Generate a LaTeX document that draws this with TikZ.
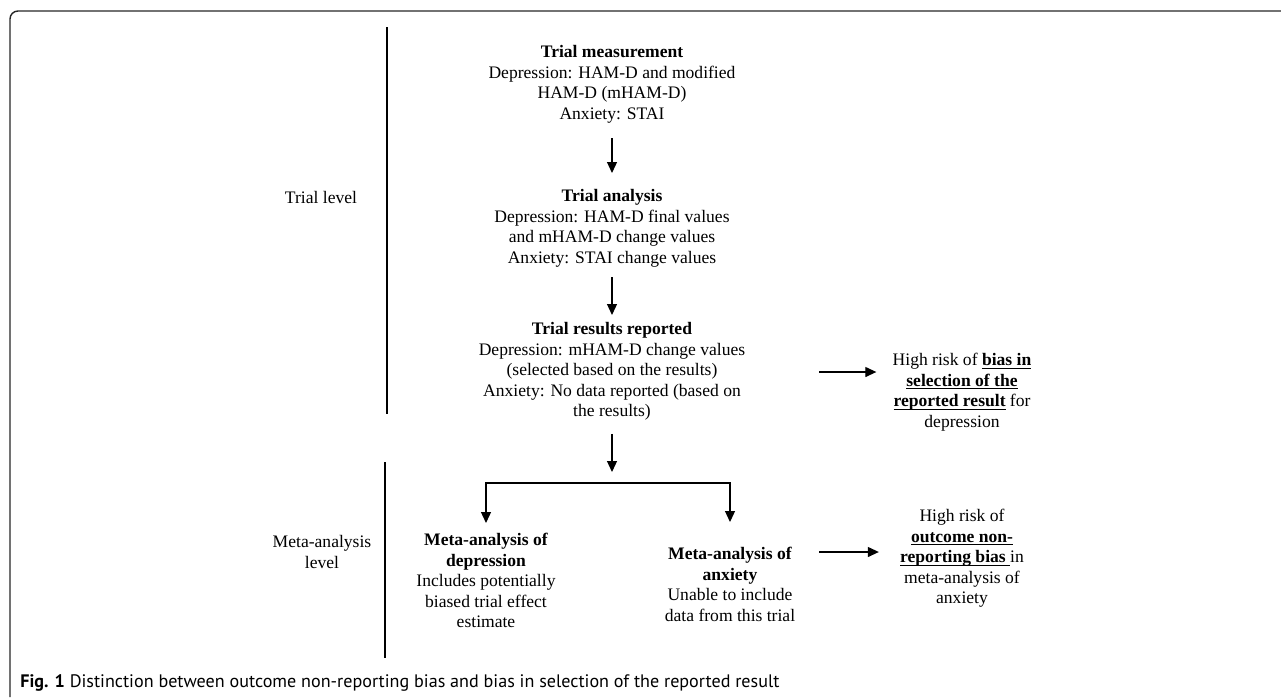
\documentclass[tikz,border=0pt]{standalone}
\usepackage{fontspec}
\setmainfont{Liberation Serif}
\newfontfamily\capfont{PT Sans}
\usepackage{tikz}
\usetikzlibrary{arrows.meta, positioning, calc}
\usepackage{xcolor}
\newcommand\ubf[1]{\underline{\smash{\textbf{#1}}}}

\begin{document}
\begin{tikzpicture}[
  x=0.02cm, y=-0.02cm,
  stage/.style={inner sep=0pt, align=center, anchor=north,
                font=\fontsize{10}{11.7}\selectfont},
  level/.style={inner sep=0pt, align=center,
                font=\fontsize{10}{11.7}\selectfont},
  arr/.style={-{Triangle[width=0.2cm, length=0.22cm]}, line width=0.7pt},
  bar/.style={line width=1.7pt},
  frame/.style={line width=0.8pt, draw=black!85, rounded corners=0.16cm}
]
\useasboundingbox (0,0) rectangle (1281,697);
\draw[frame] (10,697) -- (10,11) -- (1281,11);
\draw[bar] (387,27) -- (387,414);
\draw[bar] (385,462) -- (385,658);

\node[level, anchor=base] (triallev) at (321,203) {Trial level};
\node[level, anchor=north] (metalev) at (322,535) {Meta-analysis\\level};

\node[stage] (meas) at (612,45) {\textbf{Trial measurement}\\Depression: HAM-D and modified\\HAM-D (mHAM-D)\\Anxiety: STAI};
\node[stage] (anal) at (612,189) {\textbf{Trial analysis}\\Depression: HAM-D final values\\and mHAM-D change values\\Anxiety: STAI change values};
\node[stage] (rep) at (612,322) {\textbf{Trial results reported}\\Depression: mHAM-D change values\\(selected based on the results)\\Anxiety: No data reported (based on\\the results)};
\node[stage] (madep) at (486,533) {\textbf{Meta-analysis of}\\\textbf{depression}\\Includes potentially\\biased trial effect\\estimate};
\node[stage] (maanx) at (730,547) {\textbf{Meta-analysis of}\\\textbf{anxiety}\\Unable to include\\data from this trial};
\node[stage] (risksel) at (962,353) {High risk of \ubf{bias in}\\\ubf{selection of the}\\\ubf{reported result} for\\depression};
\node[stage] (risknon) at (962,509) {High risk of\\\ubf{outcome non-}\\\ubf{reporting bias\ }in\\meta-analysis of\\anxiety};

\coordinate (split) at (612,483);
\coordinate (s1) at (819,372);
\coordinate (s2) at (819,552);

\draw[arr, shorten <=0.3cm, shorten >=0.32cm] (meas) -- (anal);
\draw[arr, shorten <=0.2cm, shorten >=0.14cm] (anal) -- (rep);
\draw[arr, shorten <=0.26cm, shorten >=0.22cm] (rep) -- (split);
\draw[arr, shorten >=0.2cm] (split) -| (madep.north);
\draw[arr, shorten >=0.5cm] (split) -| (maanx.north);
\draw[arr, shorten >=0.32cm] (s1) -- (s1 -| risksel.west);
\draw[arr, shorten >=0.42cm] (s2) -- (s2 -| risknon.west);

\node[anchor=base west, inner sep=0pt, font=\capfont\fontsize{10.3}{12}\selectfont] (cap) at (20,687)
  {\textbf{Fig. 1} Distinction between outcome non-reporting bias and bias in selection of the reported result};
\end{tikzpicture}
\end{document}
